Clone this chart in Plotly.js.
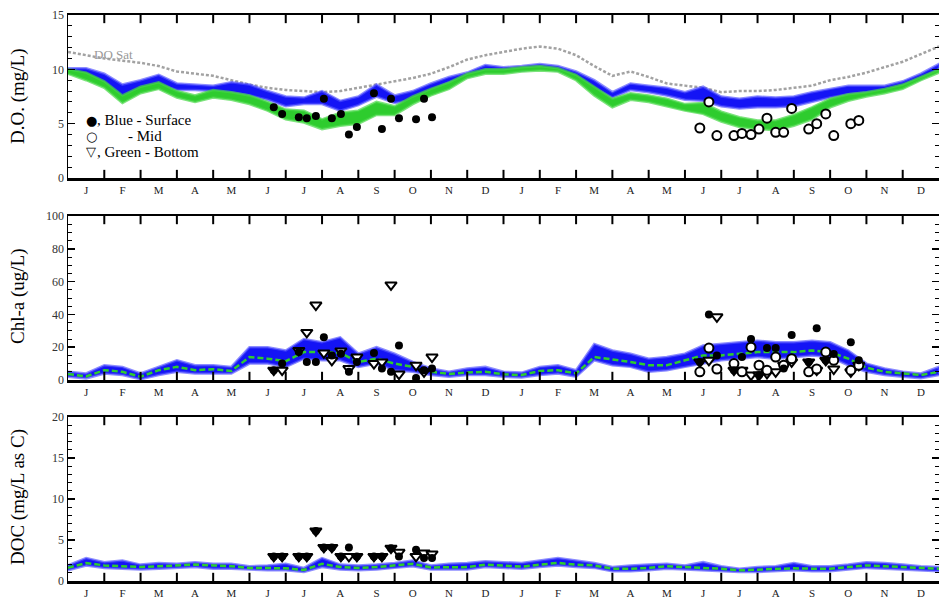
<!DOCTYPE html>
<html>
<head>
<meta charset="utf-8">
<script src="https://cdn.plot.ly/plotly-3.0.1.min.js"></script>
<style>
  html, body { margin: 0; padding: 0; background: #fff; }
  #chart { width: 939px; height: 604px; }
</style>
</head>
<body>
<div id="chart"></div>
<script>
// Two-year record, time in months from 1 January of the first year.
const monthLetters = ['J','F','M','A','M','J','J','A','S','O','N','D'];
const tickLabels = monthLetters.concat(monthLetters);
const monthMid = [0.5,1.5,2.5,3.5,4.5,5.5,6.5,7.5,8.5,9.5,10.5,11.5,
                  12.5,13.5,14.5,15.5,16.5,17.5,18.5,19.5,20.5,21.5,22.5,23.5];
const monthEdges = [1,2,3,4,5,6,7,8,9,10,11,12,13,14,15,16,17,18,19,20,21,22,23];

// Model output, sampled every half month
const gridT = [0,0.5,1,1.5,2,2.5,3,3.5,4,4.5,5,5.5,6,6.5,7,7.5,8,8.5,9,9.5,10,10.5,11,11.5,
               12,12.5,13,13.5,14,14.5,15,15.5,16,16.5,17,17.5,18,18.5,19,19.5,20,20.5,21,21.5,
               22,22.5,23,23.5,24];

// Dissolved oxygen (mg/L)
const doSat = [11.6,11.3,11.0,10.8,10.6,10.3,9.8,9.6,9.4,9.0,8.6,8.3,8.1,8.0,7.9,8.0,8.3,8.6,8.9,9.2,
               9.6,10.2,10.9,11.3,11.6,11.9,12.1,11.9,11.3,10.3,9.4,9.8,9.3,8.7,8.5,8.3,7.9,8.0,8.0,8.1,
               8.3,8.5,9.0,9.3,9.7,10.2,10.7,11.4,12.1];
const doSurfLow = [9.7,9.3,8.8,7.2,8.0,8.6,8.1,8.1,8.0,7.9,7.6,7.2,6.6,6.8,6.8,6.2,6.7,7.5,6.9,7.2,
                   8.1,8.8,9.3,9.8,9.8,9.9,10.1,9.9,9.3,8.3,7.4,8.1,7.9,7.6,7.2,7.1,6.6,6.4,6.5,6.5,
                   6.6,7.0,7.4,7.7,7.9,8.0,8.5,9.1,10.0];
const doSurfHigh = [10.1,10.1,9.6,8.6,9.0,9.5,8.7,8.6,8.5,8.8,8.6,8.0,7.5,7.4,8.0,7.1,7.5,8.6,7.6,8.0,
                    8.7,9.3,9.7,10.4,10.2,10.3,10.5,10.3,9.8,9.0,7.9,8.7,8.5,8.3,7.9,8.4,7.5,7.3,7.5,7.4,
                    7.5,7.9,8.2,8.5,8.5,8.5,8.9,9.6,10.5];
const doBotLow = [9.6,9.0,8.3,6.9,7.8,8.2,7.4,7.0,7.4,7.2,6.8,6.2,5.4,5.1,4.5,4.8,5.0,5.8,5.8,6.8,
                  7.6,8.2,9.2,9.6,9.6,9.8,9.9,9.8,9.0,7.6,6.5,7.2,7.0,6.6,6.2,5.9,5.2,4.7,4.5,4.4,
                  4.8,5.4,6.5,7.1,7.5,7.8,8.2,9.0,9.7];
const doBotHigh = [10.0,9.7,8.9,7.6,8.4,8.8,8.0,7.6,8.1,7.9,7.6,7.0,6.3,6.2,5.4,6.0,6.2,7.0,6.6,7.5,
                   8.2,8.8,9.6,10.0,10.0,10.2,10.3,10.1,9.5,8.4,7.3,7.8,7.6,7.3,6.8,6.9,6.1,5.6,5.3,5.3,
                   5.8,6.5,7.3,7.7,7.9,8.2,8.6,9.3,10.0];

// Chlorophyll-a (ug/L)
const chlSurfLow = [2,1,4,3,0.5,3,5,4,4,4,10,10,8,13,12,12,8,10,6,5,3,2,3,3,2,1.5,3,4,2,12,
                    9,8,5,6,8,10,12,13,14,13,14,15,14,9,5,3,2,1,3];
const chlSurfHigh = [5,4,9,8,4,8,12,9,9,8,20,20,18,25,23,26,16,20,16,11,7,5,7,8,5,4.5,8,9,6,22,
                     18,16,13,14,16,21,22,23,24,23,23,24,23,18,10,7,5,4,8];
const chlBot = [3.7,2.2,6,5,2,6,8,6,6.6,5.5,14,13,11.5,17,17,16.5,11,13,10,8,5,3.7,4.5,5,3.5,3,5.5,6,4,14,
                12.5,11,9,9,12,15,15,16,17,17,17,18,17,13,7.5,5,4,3,5];

// Dissolved organic carbon (mg/L as C)
const docSurfLow = [1.3,1.9,1.6,1.5,1.4,1.5,1.6,1.7,1.5,1.5,1.4,1.3,1.3,1.1,1.7,1.4,1.3,1.4,1.6,1.8,
                    1.4,1.4,1.4,1.7,1.6,1.5,1.7,1.9,1.7,1.6,1.2,1.2,1.3,1.5,1.4,1.3,1.2,1.1,1.1,1.2,
                    1.3,1.2,1.2,1.4,1.6,1.5,1.4,1.3,1.2];
const docSurfHigh = [1.9,2.8,2.3,2.5,2.0,2.2,2.1,2.3,2.1,2.1,1.8,1.9,2.1,1.6,2.8,2.0,1.9,2.0,2.2,2.5,
                     1.9,2.1,2.2,2.4,2.3,2.2,2.5,2.8,2.5,2.2,1.7,1.9,2.0,2.1,1.9,2.3,1.8,1.5,1.7,1.8,
                     2.2,1.8,1.8,2.0,2.3,2.2,2.0,1.8,1.7];
const docBot = [1.6,2.2,1.9,1.8,1.7,1.8,1.9,2.0,1.9,1.8,1.6,1.6,1.55,1.35,2.1,1.7,1.6,1.7,1.9,2.1,
                1.65,1.7,1.7,2.0,1.9,1.75,2.0,2.2,2.0,1.9,1.5,1.5,1.6,1.8,1.7,1.6,1.5,1.3,1.4,1.45,
                1.55,1.5,1.5,1.7,1.9,1.8,1.7,1.6,1.5];

// Field samples, first and second summer
const sampleT1 = [5.67,5.90,6.36,6.58,6.83,7.05,7.27,7.52,7.74,7.96,8.43,8.65,8.90,9.12,9.59,9.81,10.03];
const sampleT2 = [17.41,17.66,17.88,18.35,18.57,18.82,19.04,19.26,19.50,19.72,19.94,20.41,20.63,20.88,21.10,21.57,21.79];

const doSurf1 = [6.5,5.9,5.6,5.5,5.7,7.3,5.5,5.9,4.0,4.7,7.8,4.5,7.3,5.5,5.4,7.3,5.6];
const doMid2  = [4.6,7.0,3.9,3.9,4.1,4.0,4.5,5.5,4.2,4.2,6.4,4.5,5.0,5.9,3.9,5.0,5.3];

const chlSurf1 = [6,10,17,11,11,26,15,16,5,11,16.5,7,5,21,1.2,6,7];
const chlBot1  = [6,6,18,29,45.7,16.5,12,17.7,7,14,10,11,58,3.6,9,5,14];
const chlSurf2 = [11,40,15,6,14,25,3,19.5,19.5,7,27.5,11,31.6,12,15.8,23,12];
const chlMid2  = [5,19.5,6.7,10,5,20,9,6,14,9,13,5,6.7,17,12,6,9];
const chlBot2  = [11,12,38.5,6,6,3,3,4,5,9,11,11,6,12,6.7,5,9];

const docSurf1 = [3.0,3.0,3.0,3.0,6.1,4.1,4.1,3.0,4.1,3.0,3.0,3.0,4.0,3.0,3.8,2.8,2.8];
const docBot1  = [3.0,3.0,3.0,3.0,6.1,4.1,4.1,3.0,3.0,3.0,3.0,3.0,4.0,3.5,3.0,3.4,3.3];

// Axis ranges
const doRange = [0, 15], chlRange = [0, 100], docRange = [0, 20];

// ---- styling ----
const serif = 'Liberation Serif, Times New Roman, serif';
const BLUE = '#1414f5', BLUE_EDGE = 'rgba(80,80,255,0.65)';
const GREEN = '#2ecc2e', GREEN_EDGE = 'rgba(70,215,70,0.7)';
const GREY = '#a2a2a2';

function band(lo, hi, color, edge, xa, ya) {
  return {
    x: gridT.concat(gridT.slice().reverse()),
    y: lo.concat(hi.slice().reverse()),
    mode: 'lines', fill: 'toself', fillcolor: color,
    line: { color: edge, width: 2.5 },
    xaxis: xa, yaxis: ya, hoverinfo: 'skip', showlegend: false
  };
}
function line(y, color, dash, width, xa, ya) {
  return { x: gridT, y: y, mode: 'lines', line: { color: color, width: width, dash: dash },
           xaxis: xa, yaxis: ya, hoverinfo: 'skip', showlegend: false };
}
function surfPts(t, y, xa, ya) {
  return { x: t, y: y, mode: 'markers', xaxis: xa, yaxis: ya, showlegend: false,
           marker: { symbol: 'circle', size: 8, color: '#000' } };
}
function midPts(t, y, xa, ya) {
  return { x: t, y: y, mode: 'markers', xaxis: xa, yaxis: ya, showlegend: false,
           marker: { symbol: 'circle', size: 9, color: '#fff', line: { color: '#000', width: 2 } } };
}
function botPts(t, y, xa, ya) {
  return { x: t, y: y, mode: 'markers', xaxis: xa, yaxis: ya, showlegend: false,
           marker: { symbol: 'triangle-down', size: 10, color: '#fff', line: { color: '#000', width: 2 } } };
}
// Month-boundary tick marks pointing inward from the bottom and top frame lines
function monthTicks(range, xa, ya) {
  const len = (range[1] - range[0]) * 0.05;
  const x = [], y = [];
  monthEdges.forEach(e => {
    x.push(e, e, null, e, e, null);
    y.push(range[0], range[0] + len, null, range[1] - len, range[1], null);
  });
  return { x: x, y: y, mode: 'lines', line: { color: '#000', width: 2 },
           connectgaps: false, xaxis: xa, yaxis: ya, hoverinfo: 'skip', showlegend: false };
}

const traces = [
  // D.O.
  line(doSat, GREY, '3px,2px', 2.5, 'x', 'y'),
  band(doSurfLow, doSurfHigh, BLUE, BLUE_EDGE, 'x', 'y'),
  band(doBotLow, doBotHigh, GREEN, GREEN_EDGE, 'x', 'y'),
  midPts(sampleT2, doMid2, 'x', 'y'),
  surfPts(sampleT1, doSurf1, 'x', 'y'),
  monthTicks(doRange, 'x', 'y'),
  // Chl-a
  band(chlSurfLow, chlSurfHigh, BLUE, BLUE_EDGE, 'x2', 'y2'),
  line(chlBot, GREEN, '6px,3px', 2.5, 'x2', 'y2'),
  botPts(sampleT1, chlBot1, 'x2', 'y2'),
  botPts(sampleT2, chlBot2, 'x2', 'y2'),
  midPts(sampleT2, chlMid2, 'x2', 'y2'),
  surfPts(sampleT1, chlSurf1, 'x2', 'y2'),
  surfPts(sampleT2, chlSurf2, 'x2', 'y2'),
  monthTicks(chlRange, 'x2', 'y2'),
  // DOC
  band(docSurfLow, docSurfHigh, BLUE, BLUE_EDGE, 'x3', 'y3'),
  line(docBot, GREEN, '6px,3px', 2.5, 'x3', 'y3'),
  botPts(sampleT1, docBot1, 'x3', 'y3'),
  surfPts(sampleT1, docSurf1, 'x3', 'y3'),
  monthTicks(docRange, 'x3', 'y3')
];

// Axis with frame line and month initials centred in each month
function xAxis(anchor) {
  return {
    anchor: anchor, domain: [0, 1], range: [0, 24], fixedrange: true,
    showline: true, linewidth: 2.5, linecolor: '#000', mirror: true,
    showgrid: false, zeroline: false,
    tickmode: 'array', tickvals: monthMid, ticktext: tickLabels, ticks: '',
    tickfont: { family: serif, size: 11, color: '#222' }
  };
}
function yAxis(anchor, domain, range, major, minorStep) {
  return {
    anchor: anchor, domain: domain, range: range, fixedrange: true,
    showline: true, linewidth: 1.5, linecolor: '#000', mirror: 'allticks',
    showgrid: false, zeroline: false,
    tickmode: 'array', tickvals: major, ticks: 'inside', ticklen: 7, tickwidth: 1.5, tickcolor: '#000',
    tickfont: { family: serif, size: 12, color: '#333' },
    minor: { dtick: minorStep, ticks: 'inside', ticklen: 4, tickwidth: 1, tickcolor: '#000', showgrid: false }
  };
}

// paper positions from pixel coordinates of the 939 x 604 page
const W = 871, H = 604, L = 68;
const px = v => (v - L) / W;
const py = v => 1 - v / H;

const titleFont = { family: serif, size: 19, color: '#000' };
const legFont = { family: serif, size: 15, color: '#000' };
const symFont = { family: 'DejaVu Sans, sans-serif', size: 13, color: '#000' };

const annotations = [
  { text: 'D.O. (mg/L)', x: px(18), y: py(96), textangle: -90, font: titleFont },
  { text: 'Chl-a (ug/L)', x: px(18), y: py(296), textangle: -90, font: titleFont },
  { text: 'DOC (mg/L as C)', x: px(18), y: py(497), textangle: -90, font: titleFont },
  { text: 'DO Sat', x: px(93), y: py(54), xanchor: 'left', font: { family: serif, size: 13, color: '#999' } },
  { text: '\u25CF', x: px(91), y: py(120), font: symFont },
  { text: ', Blue - Surface', x: px(96), y: py(120), xanchor: 'left', font: legFont },
  { text: '\u25CB', x: px(91), y: py(136), font: symFont },
  { text: '- Mid', x: px(127), y: py(136), xanchor: 'left', font: legFont },
  { text: '\u25BD', x: px(91), y: py(152), font: symFont },
  { text: ', Green - Bottom', x: px(96), y: py(152), xanchor: 'left', font: legFont }
].map(a => Object.assign({ xref: 'paper', yref: 'paper', showarrow: false, xanchor: a.xanchor || 'center',
                           yanchor: 'middle', borderpad: 0 }, a));

const layout = {
  width: 939, height: 604,
  margin: { l: L, r: 0, t: 0, b: 0 },
  paper_bgcolor: '#fff', plot_bgcolor: '#fff',
  showlegend: false,
  xaxis: xAxis('y'),
  xaxis2: xAxis('y2'),
  xaxis3: xAxis('y3'),
  yaxis: yAxis('x', [py(178), py(15)], doRange, [0, 5, 10, 15], 1),
  yaxis2: yAxis('x2', [py(380), py(216)], chlRange, [0, 20, 40, 60, 80, 100], 5),
  yaxis3: yAxis('x3', [py(581), py(417)], docRange, [0, 5, 10, 15, 20], 1),
  annotations: annotations
};

Plotly.newPlot('chart', traces, layout, { staticPlot: true, displayModeBar: false });
</script>
</body>
</html>
